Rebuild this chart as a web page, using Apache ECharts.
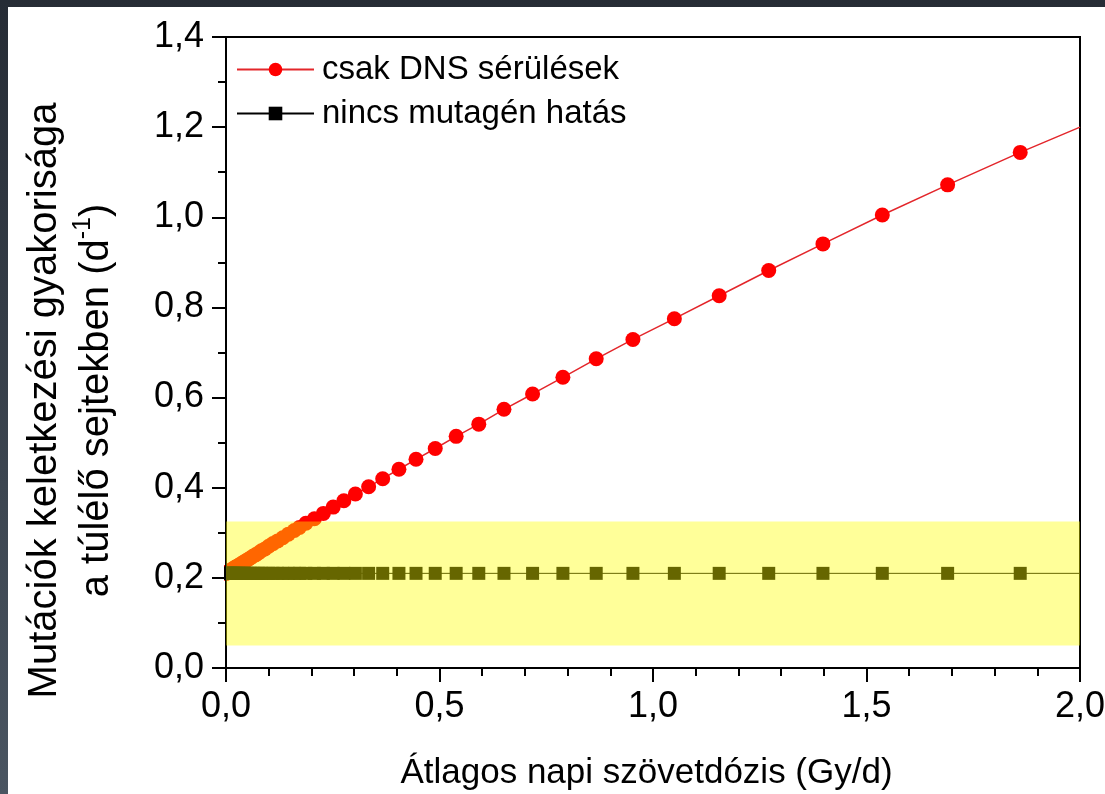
<!DOCTYPE html>
<html>
<head>
<meta charset="utf-8">
<script src="https://cdn.jsdelivr.net/npm/echarts@6/dist/echarts.min.js"></script>
<style>
  html, body { margin: 0; padding: 0; width: 1105px; height: 794px; overflow: hidden;
    background: linear-gradient(to bottom, #262c35, #4a5561); }
  #chart { position: absolute; left: 8px; top: 7px; width: 1097px; height: 787px; background: #ffffff; }
</style>
</head>
<body>
<div id="chart"></div>
<script>
// ---- data ----
const doseX = [0, 0.002, 0.004, 0.006, 0.008, 0.010, 0.012, 0.014, 0.016, 0.018,
  0.021, 0.023, 0.026, 0.029, 0.032, 0.035, 0.039, 0.043, 0.047, 0.052,
  0.057, 0.063, 0.069, 0.076, 0.083, 0.091, 0.100, 0.110, 0.121, 0.133,
  0.146, 0.160, 0.172, 0.187, 0.207, 0.228, 0.251, 0.276, 0.303, 0.334,
  0.367, 0.405, 0.445, 0.490, 0.539, 0.592, 0.651, 0.718, 0.789, 0.867,
  0.953, 1.050, 1.155, 1.271, 1.398, 1.537, 1.690, 1.860];
const dnsDamage = [0.210, 0.211, 0.212, 0.214, 0.215, 0.216, 0.217, 0.218, 0.220, 0.221,
  0.223, 0.224, 0.226, 0.227, 0.229, 0.231, 0.233, 0.236, 0.238, 0.241,
  0.244, 0.248, 0.251, 0.255, 0.260, 0.264, 0.270, 0.276, 0.282, 0.289,
  0.297, 0.305, 0.312, 0.321, 0.331, 0.343, 0.357, 0.371, 0.386, 0.402,
  0.420, 0.441, 0.463, 0.487, 0.514, 0.541, 0.574, 0.608, 0.645, 0.686,
  0.729, 0.775, 0.826, 0.882, 0.941, 1.005, 1.072, 1.144];
const noMutagen = doseX.map(() => 0.21);
// line end points (line continues to the axis end without a marker)
const lineEndX = 2.0;
const dnsDamageEnd = 1.2;
const noMutagenEnd = 0.21;
// highlighted band
const bandX = [0, 2.0];
const bandY = [0.05, 0.325];
// ticks
const xTickLabels = ['0,0', '0,5', '1,0', '1,5', '2,0'];
const yTickLabels = ['0,0', '0,2', '0,4', '0,6', '0,8', '1,0', '1,2', '1,4'];
const seriesNames = ['csak DNS sérülések', 'nincs mutagén hatás'];

const FONT = 'Liberation Sans, Arial, sans-serif';

function buildData(ys, endY) {
  const d = doseX.map((x, i) => [x, ys[i]]);
  d.push({ value: [lineEndX, endY], symbol: 'none' });
  return d;
}

const chart = echarts.init(document.getElementById('chart'), null, { renderer: 'canvas' });
const axisLineStyle = { color: '#000', width: 2 };

chart.setOption({
  animation: false,
  textStyle: { fontFamily: FONT },
  grid: { left: 218, top: 30, right: 25, bottom: 126, outerBoundsMode: 'none', containLabel: false,
    show: true, borderColor: '#000', borderWidth: 2, backgroundColor: 'transparent' },
  legend: {
    orient: 'vertical', left: 228, top: 46, padding: 0,
    itemWidth: 77, itemHeight: 17, itemGap: 11,
    data: seriesNames,
    textStyle: { fontSize: 33, color: '#000', fontFamily: FONT, padding: [0, 0, 0, 3] },
    selectedMode: false
  },
  xAxis: {
    type: 'value', min: 0, max: 2, interval: 0.5, z: 4,
    name: 'Átlagos napi szövetdózis (Gy/d)', nameLocation: 'middle', nameGap: 88,
    nameTextStyle: { fontSize: 35, color: '#000', fontFamily: FONT, padding: [0, 13, 0, 0] },
    axisLine: { show: true, onZero: false, lineStyle: axisLineStyle },
    axisTick: { show: true, length: 14, lineStyle: axisLineStyle },
    minorTick: { show: true, splitNumber: 5, length: 8, lineStyle: axisLineStyle },
    splitLine: { show: false }, minorSplitLine: { show: false },
    axisLabel: { fontSize: 36, color: '#000', margin: 21, fontFamily: FONT,
      formatter: v => xTickLabels[Math.round(v / 0.5)] }
  },
  yAxis: {
    type: 'value', min: 0, max: 1.4, interval: 0.2, z: 4,
    name: '{a|Mutációk keletkezési gyakorisága}\n{a|a túlélő sejtekben (d}{s|-1}{a|)}',
    nameLocation: 'middle', nameGap: 103,
    nameTextStyle: {
      color: '#000', fontSize: 40, lineHeight: 52, fontFamily: FONT, padding: [0, 96, 0, 0],
      rich: {
        a: { fontSize: 40, lineHeight: 52, color: '#000', fontFamily: FONT },
        s: { fontSize: 25, lineHeight: 24, color: '#000', fontFamily: FONT, verticalAlign: 'top' }
      }
    },
    axisLine: { show: true, onZero: false, lineStyle: axisLineStyle },
    axisTick: { show: true, length: 14, lineStyle: axisLineStyle },
    minorTick: { show: true, splitNumber: 2, length: 8, lineStyle: axisLineStyle },
    splitLine: { show: false }, minorSplitLine: { show: false },
    axisLabel: { fontSize: 36, color: '#000', margin: 22, fontFamily: FONT,
      formatter: v => yTickLabels[Math.round(v / 0.2)] }
  },
  graphic: [
    { type: 'rect', z: 3, silent: true, shape: { x: 0, y: 520, width: 216, height: 90 }, style: { fill: '#ffffff' } }
  ],
  series: [
    {
      name: seriesNames[0], type: 'line', z: 2, clip: true, showAllSymbol: true,
      symbol: 'circle', symbolSize: 15,
      itemStyle: { color: '#ff0000' },
      lineStyle: { color: '#e3262b', width: 1.5 },
      emphasis: { disabled: true },
      data: buildData(dnsDamage, dnsDamageEnd)
    },
    {
      name: seriesNames[1], type: 'line', z: 2, clip: true, showAllSymbol: true,
      symbol: 'rect', symbolSize: 13,
      itemStyle: { color: '#000000' },
      lineStyle: { color: '#000000', width: 1 },
      emphasis: { disabled: true },
      data: buildData(noMutagen, noMutagenEnd)
    },
    {
      type: 'line', z: 5, silent: true, data: [],
      markArea: {
        silent: true, z: 5,
        itemStyle: { color: '#ffff00', opacity: 0.4 },
        data: [[{ coord: [bandX[0], bandY[0]] }, { coord: [bandX[1], bandY[1]] }]]
      }
    }
  ]
});
</script>
</body>
</html>
